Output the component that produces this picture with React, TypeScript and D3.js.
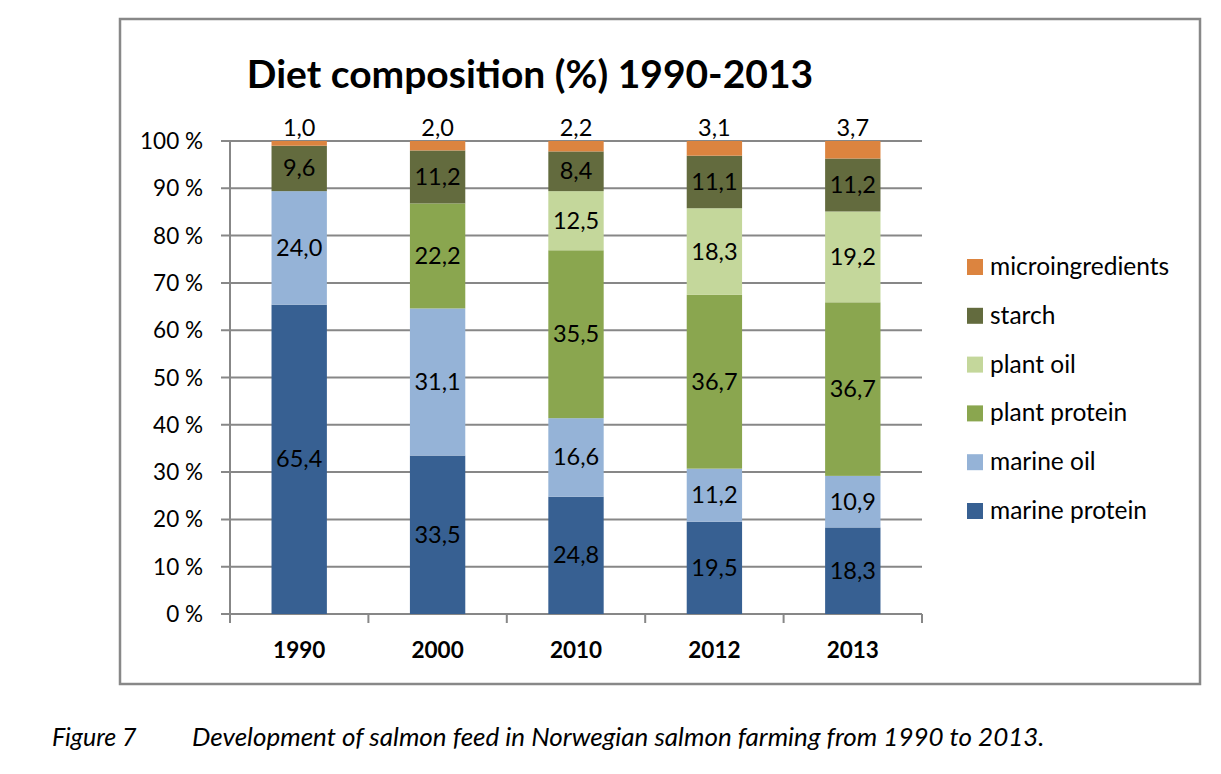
import React from "react";
import * as d3 from "d3";

const years = ["1990", "2000", "2010", "2012", "2013"];
const seriesNames = ["marine protein", "marine oil", "plant protein", "plant oil", "starch", "microingredients"];
const marineProtein = [65.4, 33.5, 24.8, 19.5, 18.3];
const marineOil = [24.0, 31.1, 16.6, 11.2, 10.9];
const plantProtein = [0, 22.2, 35.5, 36.7, 36.7];
const plantOil = [0, 0, 12.5, 18.3, 19.2];
const starch = [9.6, 11.2, 8.4, 11.1, 11.2];
const microingredients = [1.0, 2.0, 2.2, 3.1, 3.7];
const yTicks = [0, 10, 20, 30, 40, 50, 60, 70, 80, 90, 100];
const colors = ["#376092", "#95b3d7", "#8aa64f", "#c4d79b", "#636b3e", "#dc843f"];

const FONT = "Lato, 'Open Sans', sans-serif";

export default function App() {
  const seriesValues = [marineProtein, marineOil, plantProtein, plantOil, starch, microingredients];
  const rows = years.map((y, i) => {
    const r: any = { year: y };
    seriesNames.forEach((s, k) => (r[s] = seriesValues[k][i]));
    return r;
  });
  const stack = d3.stack<any>().keys(seriesNames).offset(d3.stackOffsetExpand);
  const stacked = stack(rows);

  const left = 230, right = 922, top = 141, bottom = 614;
  const x = d3.scaleBand().domain(years).range([left, right]).paddingInner(0.6).paddingOuter(0.3);
  const xb = d3.scaleBand().domain(years).range([left, right]);
  const y = d3.scaleLinear().domain([0, 1]).range([bottom, top]);
  const fmt = (v: number) => v.toFixed(1).replace(".", ",");
  const legendOrder = [...seriesNames].reverse();

  return (
    <svg width={1221} height={774} style={{ position: "absolute", left: 0, top: 0, background: "#fff" }}>
      <rect x={120} y={19} width={1080} height={665} fill="#fff" stroke="#888" strokeWidth={2.5} />
      <text x={530} y={88} textAnchor="middle" fontFamily={FONT} fontWeight={700} fontSize={39} fill="#000">
        Diet composition (%) 1990-2013
      </text>
      {yTicks.map((t) => (
        <g key={t}>
          <line x1={221} x2={right} y1={y(t / 100)} y2={y(t / 100)} stroke="#878787" strokeWidth={2} />
          <text x={203} y={y(t / 100) + 8} textAnchor="end" fontFamily={FONT} fontSize={22.5} fill="#000">
            {t} %
          </text>
        </g>
      ))}
      <line x1={left} x2={left} y1={top} y2={bottom + 1} stroke="#878787" strokeWidth={2} />
      {years.map((yr) => (
        <line key={yr} x1={xb(yr)!} x2={xb(yr)!} y1={bottom} y2={623} stroke="#878787" strokeWidth={2} />
      ))}
      <line x1={right} x2={right} y1={bottom} y2={623} stroke="#878787" strokeWidth={2} />
      {stacked.map((layer, k) => (
        <g key={layer.key}>
          {layer.map((d, i) => {
            const h = y(d[0]) - y(d[1]);
            if (h <= 0) return null;
            return (
              <rect key={i} x={x(years[i])!} width={x.bandwidth()} y={y(d[1])} height={h} fill={colors[k]} />
            );
          })}
        </g>
      ))}
      {stacked.map((layer, k) => (
        <g key={"l" + layer.key}>
          {layer.map((d, i) => {
            const v = seriesValues[k][i];
            if (v <= 0) return null;
            const cx = x(years[i])! + x.bandwidth() / 2;
            const cy = k === 5 ? 128 : (y(d[0]) + y(d[1])) / 2;
            return (
              <text key={i} x={cx} y={cy + 8} textAnchor="middle" fontFamily={FONT} fontSize={23.5} fill="#000">
                {fmt(v)}
              </text>
            );
          })}
        </g>
      ))}
      {years.map((yr) => (
        <text key={yr} x={xb(yr)! + xb.bandwidth() / 2} y={658} textAnchor="middle" fontFamily={FONT} fontWeight={700} fontSize={22.5} fill="#000">
          {yr}
        </text>
      ))}
      {legendOrder.map((s, j) => {
        const cy = 267 + j * 48.8;
        const k = seriesNames.indexOf(s);
        return (
          <g key={s}>
            <rect x={967} y={cy - 8} width={16} height={16} fill={colors[k]} />
            <text x={990} y={cy + 8} fontFamily={FONT} fontSize={24.5} fill="#000">
              {s}
            </text>
          </g>
        );
      })}
      <text x={52} y={746} fontFamily={FONT} fontStyle="italic" fontSize={25} fill="#000">
        Figure 7
      </text>
      <text x={192} y={746} fontFamily={FONT} fontStyle="italic" fontSize={26} fill="#000">
        Development of salmon feed in Norwegian salmon farming from 1990 to 2013.
      </text>
    </svg>
  );
}
